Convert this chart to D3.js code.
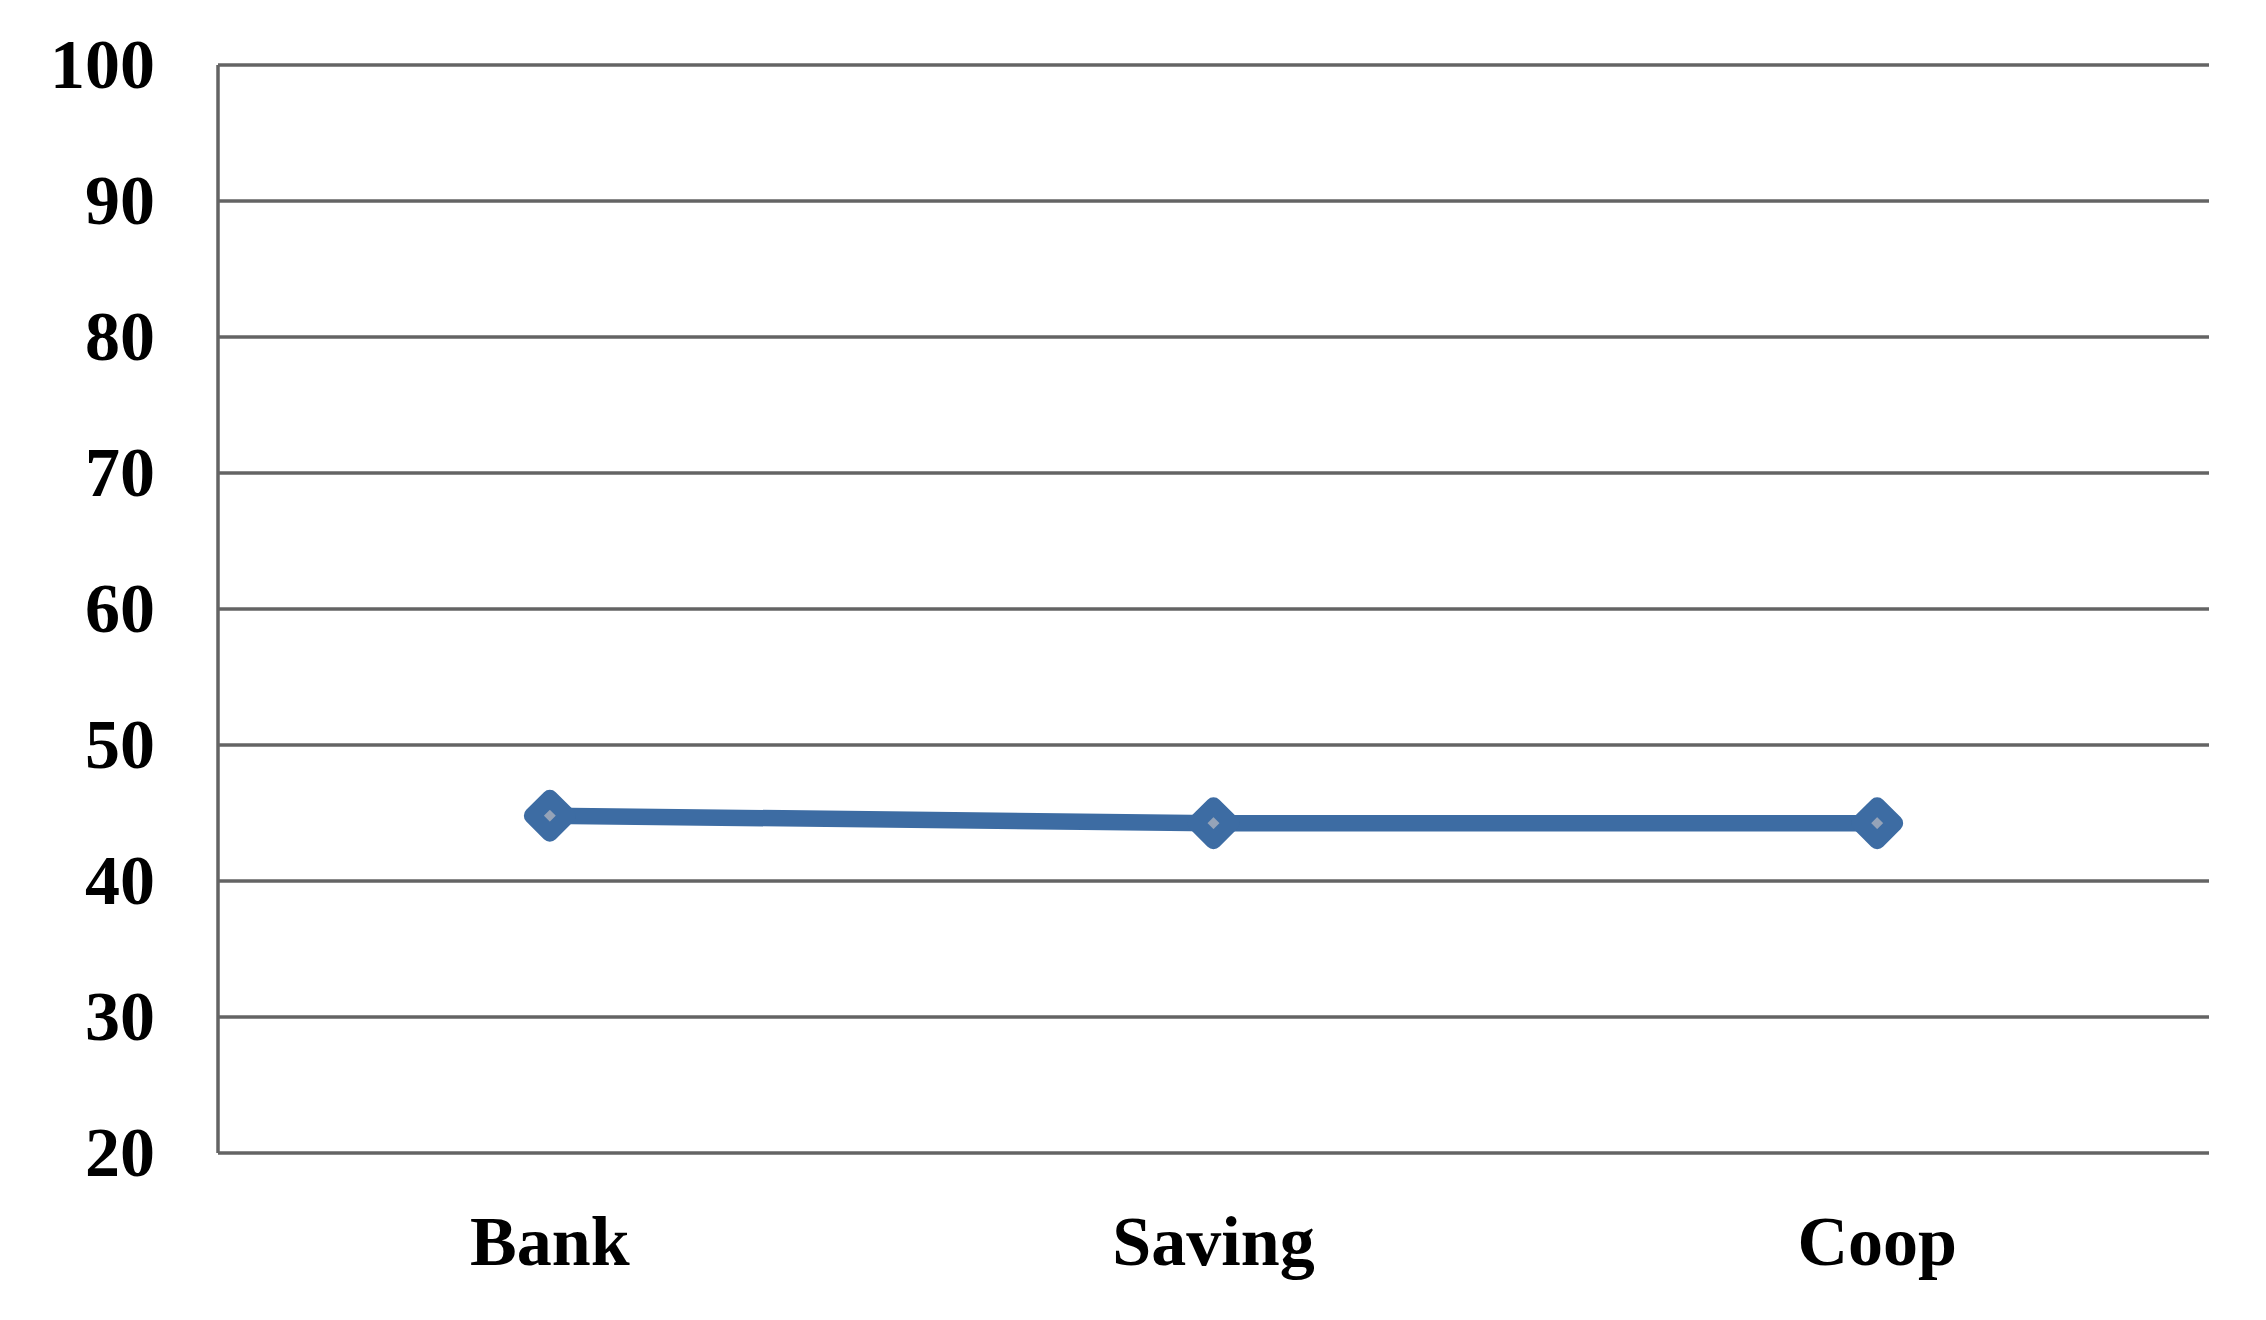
<!DOCTYPE html>
<html>
<head>
<meta charset="utf-8">
<script src="https://cdn.jsdelivr.net/npm/d3@7"></script>
<style>
  body { margin: 0; background: #fff; }
  svg text { font-family: "Liberation Serif", "Times New Roman", serif; font-weight: bold; fill: #000; }
</style>
</head>
<body>
<div id="chart"></div>
<script>
// datos
const categorias = ["Bank", "Saving", "Coop"];
const valores = [44.8, 44.25, 44.25];
const ticksY = [20, 30, 40, 50, 60, 70, 80, 90, 100];

const width = 2266, height = 1320;
const margin = { top: 65, right: 57, bottom: 167, left: 218 };

const svg = d3.select("#chart").append("svg")
    .attr("width", width)
    .attr("height", height);

const x = d3.scaleBand()
    .domain(categorias)
    .range([margin.left, width - margin.right]);

const y = d3.scaleLinear()
    .domain([20, 100])
    .range([height - margin.bottom, margin.top]);

// líneas de cuadrícula
svg.append("g")
    .selectAll("line")
    .data(ticksY)
    .enter()
    .append("line")
    .attr("x1", margin.left)
    .attr("x2", width - margin.right)
    .attr("y1", d => y(d))
    .attr("y2", d => y(d))
    .attr("stroke", "#646464")
    .attr("stroke-width", 3.5);

// eje vertical
svg.append("line")
    .attr("x1", margin.left)
    .attr("x2", margin.left)
    .attr("y1", y(100))
    .attr("y2", y(20))
    .attr("stroke", "#646464")
    .attr("stroke-width", 3.5);

// etiquetas eje Y
svg.append("g")
    .selectAll("text")
    .data(ticksY)
    .enter()
    .append("text")
    .attr("x", 155)
    .attr("y", d => y(d))
    .attr("dy", "0.33em")
    .attr("text-anchor", "end")
    .style("font-size", "70px")
    .text(d => d);

// etiquetas eje X
svg.append("g")
    .selectAll("text")
    .data(categorias)
    .enter()
    .append("text")
    .attr("x", d => x(d) + x.bandwidth() / 2)
    .attr("y", 1265)
    .attr("text-anchor", "middle")
    .style("font-size", "70px")
    .text(d => d);

const puntos = categorias.map((c, i) => ({ cat: c, val: valores[i] }));

// línea
const linea = d3.line()
    .x(d => x(d.cat) + x.bandwidth() / 2)
    .y(d => y(d.val));

svg.append("path")
    .datum(puntos)
    .attr("d", linea)
    .attr("fill", "none")
    .attr("stroke", "#3d6ca3")
    .attr("stroke-width", 16.5);

// marcadores en rombo
const h = 17.7;
svg.append("g")
    .selectAll("path")
    .data(puntos)
    .enter()
    .append("path")
    .attr("transform", d => `translate(${x(d.cat) + x.bandwidth() / 2},${y(d.val)})`)
    .attr("d", `M0,${-h}L${h},0L0,${h}L${-h},0Z`)
    .attr("fill", "#95a3b8")
    .attr("stroke", "#3d6ca3")
    .attr("stroke-width", 16.6)
    .attr("stroke-linejoin", "round");
</script>
</body>
</html>
